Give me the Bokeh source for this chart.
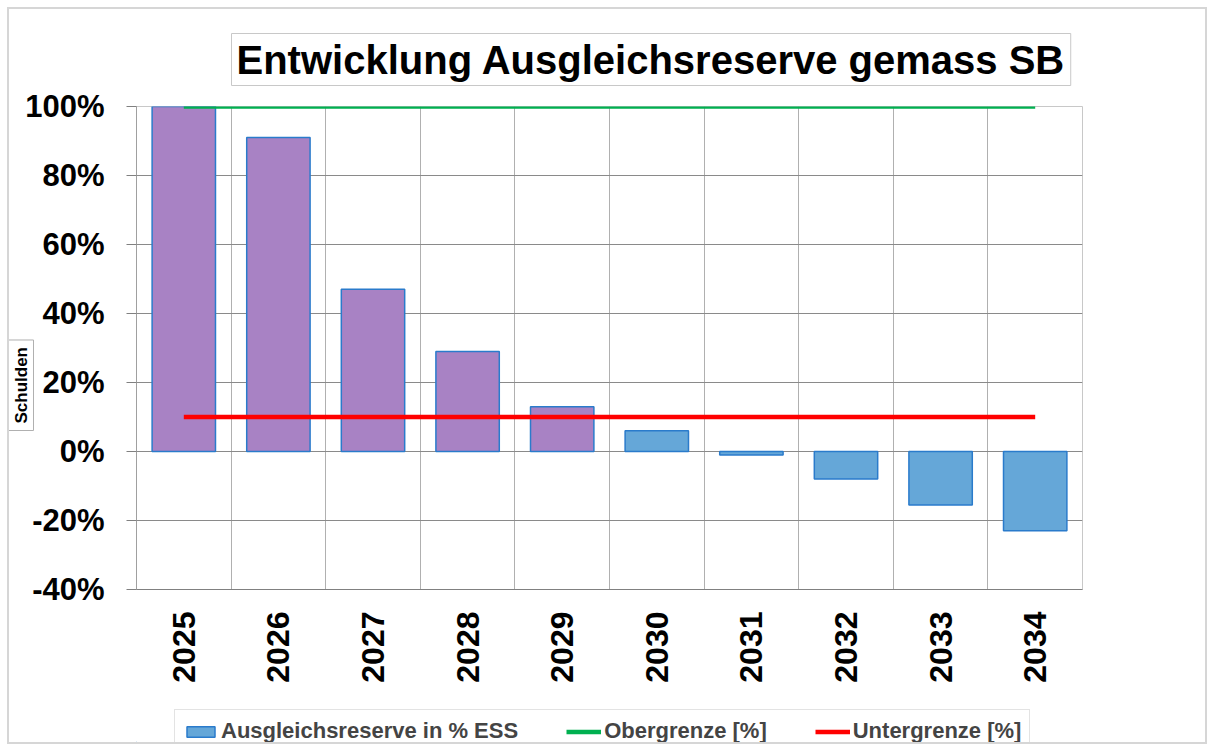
import math
from bokeh.plotting import figure
from bokeh.layouts import column
from bokeh.models import (Range1d, FixedTicker, Legend, LegendItem, Title,
                          ColumnDataSource, CustomJSTickFormatter)
from bokeh.embed import file_html
from bokeh.resources import INLINE

years = ["2025", "2026", "2027", "2028", "2029", "2030", "2031", "2032", "2033", "2034"]
reserve_pct = [100, 91, 47, 29, 13, 6, -1, -8, -15.5, -23]
obergrenze = [100] * 10
untergrenze = [10] * 10
y_ticks = [-40, -20, 0, 20, 40, 60, 80, 100]
title_text = "Entwicklung Ausgleichsreserve gemass SB"
y_label = "Schulden"
legend_labels = ["Ausgleichsreserve in % ESS", "Obergrenze [%]", "Untergrenze [%]"]

FONT = "Liberation Sans"
PURPLE = "#A882C4"
BLUE = "#65A7D8"
EDGE = "#2A7BCB"
GREEN = "#00B050"
RED = "#FF0000"

xs = [i + 0.5 for i in range(len(years))]
colors = [PURPLE if i < 5 else BLUE for i in range(len(years))]
src = ColumnDataSource(dict(x=xs, top=reserve_pct, color=colors))

p = figure(width=1196, height=691, output_backend="svg", toolbar_location=None,
           x_range=Range1d(0, len(years)), y_range=Range1d(-40, 100),
           min_border_left=127, min_border_right=123, min_border_top=97,
           min_border_bottom=111)
p.outline_line_color = "#c8c8c8"

p.vbar(x="x", top="top", bottom=0, width=0.67, fill_color="color",
       line_color=EDGE, line_width=1.5, source=src)
p.line(x=xs, y=obergrenze, line_color=GREEN, line_width=4.5)
p.line(x=xs, y=untergrenze, line_color=RED, line_width=4.5)

# y axis
p.yaxis.ticker = FixedTicker(ticks=y_ticks)
p.yaxis.formatter = CustomJSTickFormatter(code="return tick.toFixed(0) + '%';")
p.yaxis.major_label_text_font = FONT
p.yaxis.major_label_text_font_style = "bold"
p.yaxis.major_label_text_font_size = "31px"
p.yaxis.major_label_text_color = "black"
p.yaxis.major_tick_out = 10
p.yaxis.major_tick_in = 0
p.yaxis.minor_tick_line_color = None
p.yaxis.axis_line_color = "#a0a0a0"
p.yaxis.major_tick_line_color = "#808080"
p.yaxis.major_label_standoff = 22

# x axis
p.xaxis.ticker = FixedTicker(ticks=xs)
p.xaxis.major_label_overrides = {x: y for x, y in zip(xs, years)}
p.xaxis.major_label_orientation = math.pi / 2
p.xaxis.major_label_text_font = FONT
p.xaxis.major_label_text_font_style = "bold"
p.xaxis.major_label_text_font_size = "32px"
p.xaxis.major_label_text_color = "black"
p.xaxis.major_tick_line_color = None
p.xaxis.major_tick_out = 0
p.xaxis.major_tick_in = 0
p.xaxis.minor_tick_line_color = None
p.xaxis.axis_line_color = "#808080"
p.xaxis.major_label_standoff = 22

# grids
p.ygrid.ticker = FixedTicker(ticks=y_ticks)
p.ygrid.grid_line_color = "#8a8a8a"
p.xgrid.ticker = FixedTicker(ticks=list(range(len(years) + 1)))
p.xgrid.grid_line_color = "#b0b0b0"

# boxed title
p.add_layout(Title(text=title_text, align="left", offset=95, standoff=42,
                   text_font=FONT, text_font_style="bold", text_font_size="40px",
                   text_color="black", border_line_color="#c8c8c8",
                   background_fill_color="white", padding=(5, 4)), "above")

# boxed y label on the left
p.add_layout(Title(text=y_label, align="left", offset=159, standoff=-22,
                   text_font=FONT, text_font_style="bold", text_font_size="17px",
                   text_color="black", border_line_color="#b0b0b0",
                   background_fill_color="white", padding=(7, 3)), "left")

# legend strip (separate figure; its frame is aligned with the chart's frame)
q = figure(width=1196, height=42, output_backend="svg", toolbar_location=None,
           x_range=Range1d(0, 1), y_range=Range1d(0, 1), min_border=0,
           x_axis_location=None, y_axis_location=None)
q.outline_line_color = None
q.xgrid.visible = False
q.ygrid.visible = False
proxy = ColumnDataSource(dict(x=[-5.0, -4.0], top=[-5.0, -5.0]))
lb = q.vbar(x="x", top="top", width=0.5, fill_color=BLUE, line_color=EDGE,
            line_width=1.5, source=proxy)
lg = q.line(x="x", y="top", line_color=GREEN, line_width=4.5, source=proxy)
lr = q.line(x="x", y="top", line_color=RED, line_width=4.5, source=proxy)

legend = Legend(items=[LegendItem(label=legend_labels[0], renderers=[lb]),
                       LegendItem(label=legend_labels[1], renderers=[lg]),
                       LegendItem(label=legend_labels[2], renderers=[lr])],
                orientation="horizontal", location=(38, -11),
                label_text_font=FONT, label_text_font_style="bold",
                label_text_font_size="22px", glyph_width=35, glyph_height=13,
                label_standoff=3, spacing=48, padding=8, margin=0,
                border_line_color="#c8c8c8", background_fill_color="white")
q.add_layout(legend, "center")

layout = column(p, q, spacing=0,
                styles={"border": "2px solid #d6d6d6", "margin-left": "7px",
                        "margin-top": "7px"})

open("out.html", "w").write(file_html(layout, INLINE))
